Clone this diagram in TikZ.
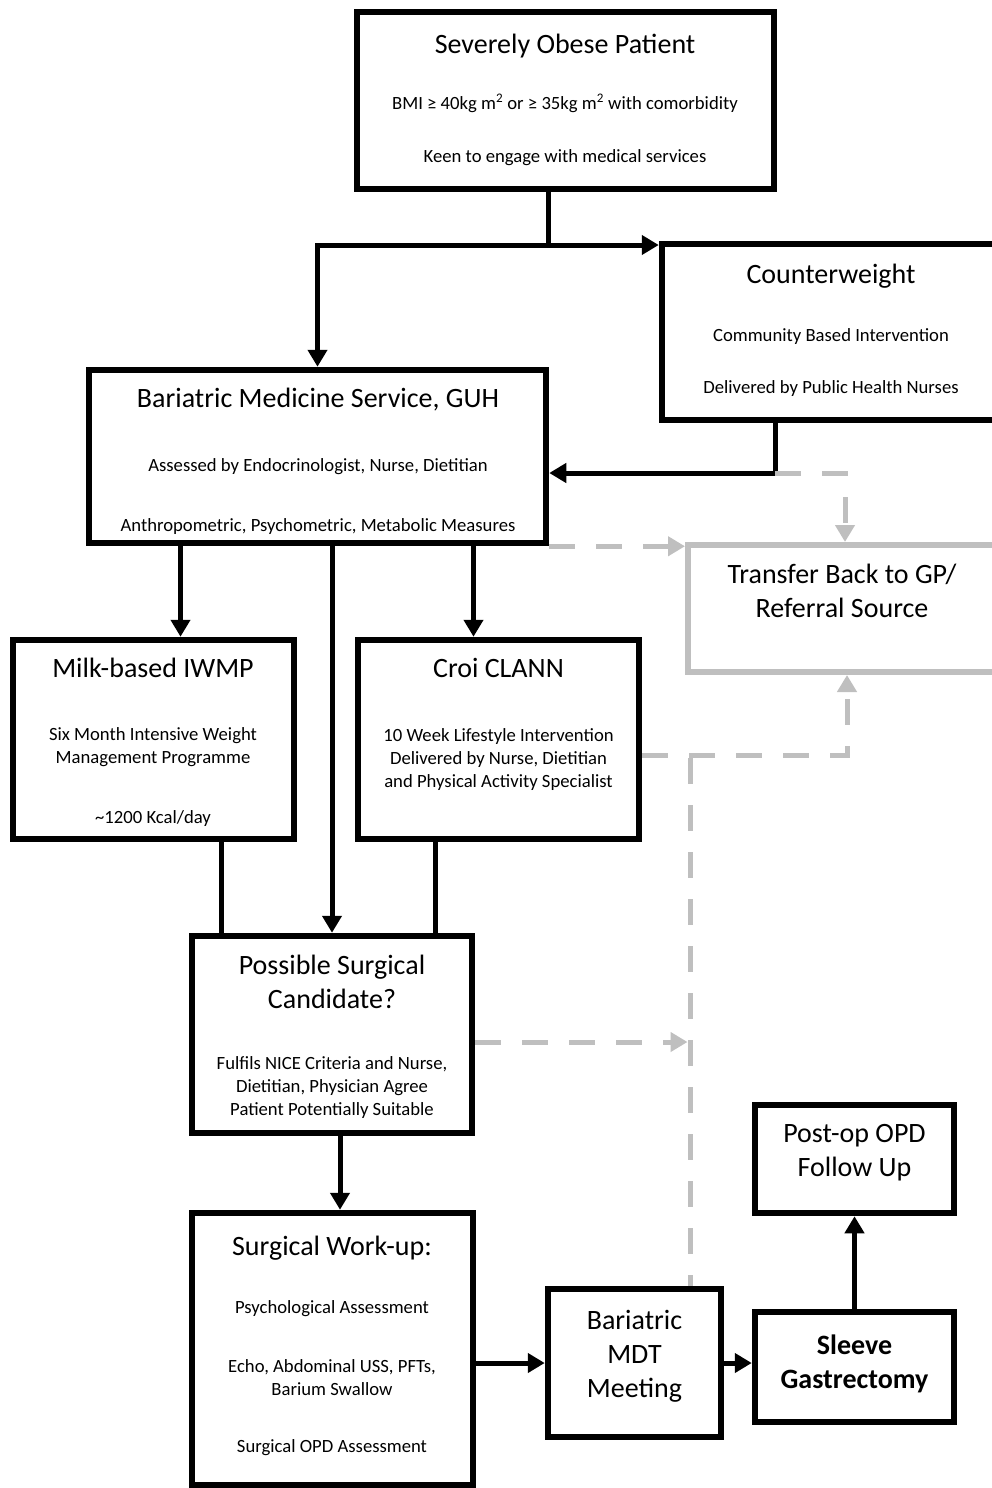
\documentclass[tikz,border=0pt]{standalone}
\usepackage{fontspec}
\setmainfont{Carlito}
\usetikzlibrary{arrows.meta}

\definecolor{linegray}{RGB}{191,191,191}

\tikzset{
  box/.style={draw, line width=6.5pt, inner sep=0pt, line join=miter},
  graybox/.style={draw=linegray, line width=6pt, inner sep=0pt},
  ttl/.style={font=\fontsize{28}{34}\selectfont, align=center, anchor=base, inner sep=0pt},
  sub/.style={font=\fontsize{18.67}{22.8}\selectfont, align=center, anchor=base, inner sep=0pt},
  link/.style={line width=5pt, line join=miter},
  conn/.style={link, -{Triangle[length=17pt,width=19pt]}},
  back/.style={draw=linegray, line width=5pt, dash pattern=on 26pt off 21pt,
    -{Triangle[length=17pt,width=19pt]}},
}

\begin{document}
\begin{tikzpicture}[x=1pt, y=-1pt]
    \useasboundingbox (0,0) rectangle (992,1488);
    \clip (0,0) rectangle (992,1488);

    % boxes, positioned by their centres
    \node[box, minimum width=417, minimum height=177] (top) at (565.5,100.5) {};
    \node[box, minimum width=338, minimum height=176] (cw) at (831,332) {};
    \node[box, minimum width=457, minimum height=173] (bms) at (317.5,456.5) {};
    \node[graybox, minimum width=308, minimum height=127] (gp) at (842,608.5) {};
    \node[box, minimum width=281, minimum height=199] (milk) at (153.5,739.5) {};
    \node[box, minimum width=281, minimum height=199] (croi) at (498.5,739.5) {};
    \node[box, minimum width=280, minimum height=197] (psc) at (332,1034.5) {};
    \node[box, minimum width=281, minimum height=272] (wu) at (332.5,1349) {};
    \node[box, minimum width=173, minimum height=148] (mdt) at (634.5,1363) {};
    \node[box, minimum width=199, minimum height=110] (slv) at (854.5,1367) {};
    \node[box, minimum width=199, minimum height=108] (fup) at (854.5,1159) {};

    % texts
    \node[ttl] (topT) at (565,53) {Severely Obese Patient};
    \node[sub] (topA) at (565,109) {BMI ≥ 40kg m\textsuperscript{2} or ≥ 35kg m\textsuperscript{2} with comorbidity};
    \node[sub] (topB) at (565,162) {Keen to engage with medical services};

    \node[ttl] (cwT) at (831,283) {Counterweight};
    \node[sub] (cwA) at (831,341) {Community Based Intervention};
    \node[sub] (cwB) at (831,393) {Delivered by Public Health Nurses};

    \node[ttl] (bmsT) at (318,407) {Bariatric Medicine Service, GUH};
    \node[sub] (bmsA) at (318,471) {Assessed by Endocrinologist, Nurse, Dietitian};
    \node[sub] (bmsB) at (318,531) {Anthropometric, Psychometric, Metabolic Measures};

    \node[ttl] (gpT) at (842,617) {Transfer Back to GP/\\Referral Source};

    \node[ttl] (milkT) at (153,677) {Milk-based IWMP};
    \node[sub] (milkA) at (153,763) {Six Month Intensive Weight\\Management Programme};
    \node[sub] (milkB) at (153,823) {\textasciitilde1200 Kcal/day};

    \node[ttl] (croiT) at (498.5,677) {Croi CLANN};
    \node[sub] (croiA) at (498.5,787) {10 Week Lifestyle Intervention\\Delivered by Nurse, Dietitian\\and Physical Activity Specialist};

    \node[ttl] (pscT) at (332,1008) {Possible Surgical\\Candidate?};
    \node[sub] (pscA) at (332,1115) {Fulfils NICE Criteria and Nurse,\\Dietitian, Physician Agree\\Patient Potentially Suitable};

    \node[ttl] (wuT) at (332,1255) {Surgical Work-up:};
    \node[sub] (wuA) at (332,1313) {Psychological Assessment};
    \node[sub] (wuB) at (332,1395) {Echo, Abdominal USS, PFTs,\\Barium Swallow};
    \node[sub] (wuC) at (332,1452) {Surgical OPD Assessment};

    \node[ttl] (mdtT) at (634.5,1397) {Bariatric\\MDT\\Meeting};
    \node[ttl, font=\fontsize{28}{34}\selectfont\bfseries] (slvT) at (854.5,1388) {Sleeve\\Gastrectomy};
    \node[ttl] (fupT) at (854.5,1176) {Post-op OPD\\Follow Up};

    % referral paths
    \coordinate (split) at (548,245);
    \draw[link] (top.south -| split) -- (split);
    \draw[conn] (split) -| (bms.north);
    \draw[conn] (split) -- (split -| cw.west);

    \coordinate (cwout) at (775,473);
    \draw[conn] (cw.south -| cwout) -- (cwout) -- (cwout -| bms.east);

    \draw[conn] ([xshift=27pt]milk.north |- bms.south) -- ([xshift=27pt]milk.north);
    \draw[conn] (psc.north |- bms.south) -- (psc.north);
    \draw[conn] ([xshift=-25pt]croi.north |- bms.south) -- ([xshift=-25pt]croi.north);

    \draw[link] ([xshift=68pt]milk.south) -- ([xshift=68pt]milk.south |- psc.north);
    \draw[link] ([xshift=-63pt]croi.south) -- ([xshift=-63pt]croi.south |- psc.north);

    \draw[conn] ([xshift=8pt]psc.south) -- ([xshift=8pt]psc.south |- wu.north);
    \draw[conn] (mdt.west -| wu.east) -- (mdt.west);
    \draw[conn] (mdt.east) -- (mdt.east -| slv.west);
    \draw[conn] (slv.north) -- (fup.south);

    % back to GP (grey, dashed)
    \draw[back] (cwout) -| ([xshift=3pt]gp.north);
    \draw[back] (bms.south east) -- (bms.south east -| gp.west);
    \draw[back] ([yshift=-15.5pt]croi.east) -| ([xshift=5pt]gp.south);
    \coordinate (tee) at (690,758);
    \draw[back, -] (tee) -- (tee |- mdt.north);
    \draw[back] ([yshift=-7.5pt]psc.east) -- ([yshift=-7.5pt,xshift=-2.5pt]psc.east -| tee);
\end{tikzpicture}
\end{document}
